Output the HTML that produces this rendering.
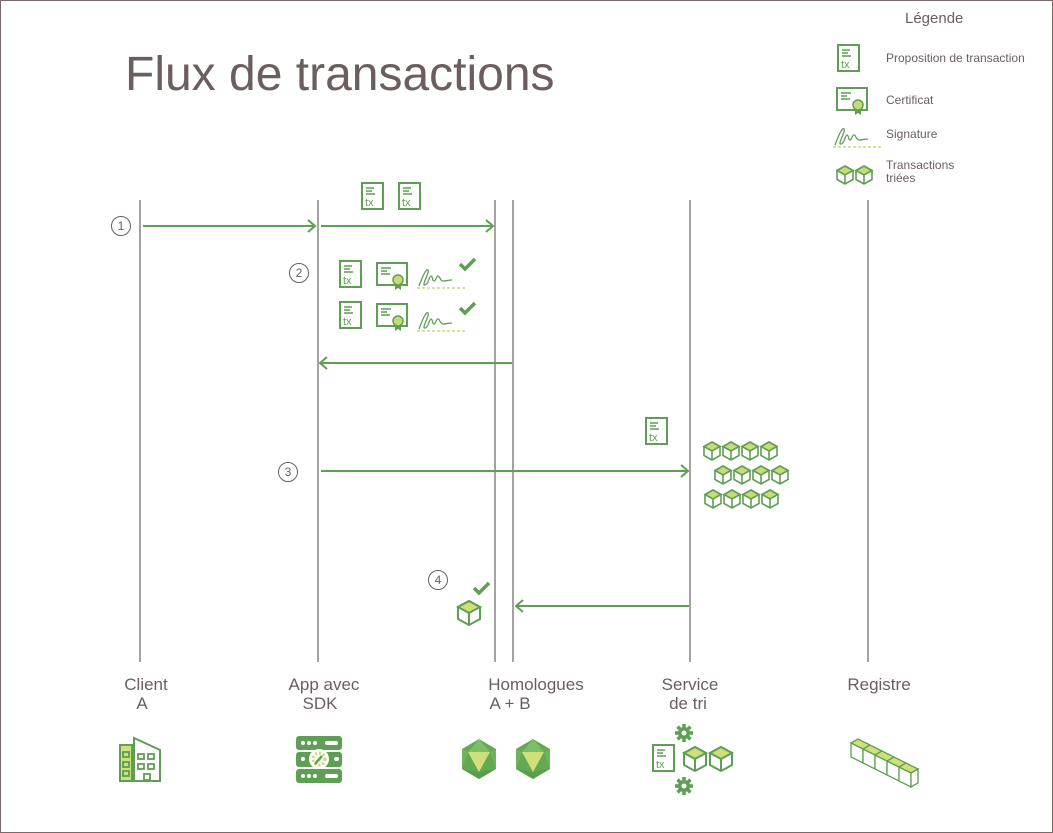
<!DOCTYPE html>
<html><head><meta charset="utf-8"><style>
body{margin:0;background:#fff;overflow:hidden}
svg{display:block}
text{font-family:"Liberation Sans","DejaVu Sans",sans-serif;fill:#6b5e5e}
</style></head><body>
<svg width="1053" height="833" viewBox="0 0 1053 833" xmlns="http://www.w3.org/2000/svg">
<defs>
<g id="tx">
<rect x="1" y="1" width="21" height="26" fill="#fff" stroke="#5f9e55" stroke-width="2"/>
<path d="M5 6h8M5 9h6M5 12h9" stroke="#5f9e55" stroke-width="1.5"/>
<text x="4" y="24" style="font-size:11px;fill:#5f9e55">tx</text>
</g>
<g id="cert">
<rect x="1" y="1" width="30" height="22" fill="#fff" stroke="#5f9e55" stroke-width="2"/>
<path d="M5 6h10M5 9h6M5 12h9" stroke="#5f9e55" stroke-width="1.5"/>
<path d="M19 20l0 8 3-2 3 2 0-8z" fill="#5f9e55"/>
<circle cx="22" cy="18" r="5" fill="#c5dc78" stroke="#5f9e55" stroke-width="1.5"/>
</g>
<g id="sig">
<path d="M2 22c3-8 7-18 9-16s-7 16-3 15 4-9 6-9 1 5 3 5 2-5 4-5 2 5 5 5 5-1 9-1" fill="none" stroke="#5f9e55" stroke-width="1.3"/>
<path d="M0 24h50" stroke="#c5dc78" stroke-width="1.5" stroke-dasharray="3 2"/>
</g>
<g id="check"><path d="M0 6l5 5 10-10" fill="none" stroke="#5f9e55" stroke-width="3.5"/></g>
<g id="cube">
<path d="M9 1l8 4.5v9L9 19l-8-4.5v-9z" fill="#fff" stroke="#5f9e55" stroke-width="1.6"/>
<path d="M1 5.5l8 4.5 8-4.5L9 1z" fill="#c5dc78" stroke="#5f9e55" stroke-width="1.6"/>
<path d="M9 10v9" stroke="#5f9e55" stroke-width="1.6"/>
</g>
<g id="bcube">
<path d="M12 1l11 6v12l-11 6-11-6V7z" fill="#fff" stroke="#5f9e55" stroke-width="2"/>
<path d="M1 7l11 6 11-6-11-6z" fill="#cfe07b" stroke="#5f9e55" stroke-width="2"/>
<path d="M12 13v12" stroke="#5f9e55" stroke-width="2"/>
</g>
<g id="gear">
<circle cx="0" cy="0" r="6" fill="#5f9e55"/>
<g stroke="#5f9e55" stroke-width="3.5"><path d="M0-9v18M-9 0h18M-6.4-6.4l12.8 12.8M6.4-6.4l-12.8 12.8"/></g>
<circle cx="0" cy="0" r="2.5" fill="#fff"/>
</g>
<g id="ico">
<path d="M19 0l17 10v20l-17 10-17-10V10z" fill="#63a852"/>
<path d="M19 0l11 13H8z" fill="#7cbd68"/>
<path d="M2 10l6 3-6 17zM36 10l-6 3 6 17z" fill="#6fb35e"/>
<path d="M8 13h22l-11 20z" fill="#cfe07b"/>
<path d="M2 30l17 3 17-3-17 10z" fill="#5a9e4c"/>
</g>
</defs>
<rect x="0.5" y="0.5" width="1052" height="832" fill="#fff" stroke="#7a6a6a"/>
<text x="125" y="90" style="font-size:48px">Flux de transactions</text>
<!-- legend -->
<text x="905" y="23" style="font-size:15px">Légende</text>
<use href="#tx" x="837" y="44"/>
<text x="886" y="62" style="font-size:12px">Proposition de transaction</text>
<use href="#cert" x="836" y="87"/>
<text x="886" y="104" style="font-size:12px">Certificat</text>
<use href="#sig" x="833" y="123"/>
<text x="886" y="138" style="font-size:12px">Signature</text>
<use href="#cube" x="836" y="165"/><use href="#cube" x="855" y="165"/>
<text x="886" y="169" style="font-size:12px">Transactions</text>
<text x="886" y="182" style="font-size:12px">triées</text>
<!-- lifelines -->
<g stroke="#8a8484" stroke-width="1.5">
<path d="M140 200V662M318 200V662M495 200V662M513 200V662M690 200V662M868 200V662"/>
</g>
<!-- arrows -->
<g stroke="#5f9e55" stroke-width="2" fill="none">
<path d="M143 226H315M308 220l7 6-7 6"/>
<path d="M321 226H493M486 220l7 6-7 6"/>
<path d="M512 363H320M327 357l-7 6 7 6"/>
<path d="M321 471H688M681 465l7 6-7 6"/>
<path d="M689 606H516M523 600l-7 6 7 6"/>
</g>
<g fill="#fff" stroke="#6b5e5e" stroke-width="1">
<circle cx="121" cy="226" r="9.5"/><circle cx="299" cy="273" r="9.5"/><circle cx="288" cy="472" r="9.5"/><circle cx="438" cy="580" r="9.5"/>
</g>
<g style="font-size:12px" text-anchor="middle">
<text x="121" y="230">1</text><text x="299" y="277">2</text><text x="288" y="476">3</text><text x="438" y="584">4</text>
</g>
<use href="#tx" x="361" y="182"/><use href="#tx" x="398" y="182"/>
<use href="#tx" x="339" y="260"/><use href="#cert" x="376" y="262"/><use href="#sig" x="417" y="264"/><use href="#check" x="460" y="258"/>
<use href="#tx" x="339" y="301"/><use href="#cert" x="376" y="303"/><use href="#sig" x="417" y="307"/><use href="#check" x="460" y="302"/>
<use href="#tx" x="645" y="417"/>
<g>
<use href="#cube" x="703" y="441"/><use href="#cube" x="722" y="441"/><use href="#cube" x="741" y="441"/><use href="#cube" x="760" y="441"/>
<use href="#cube" x="714" y="465"/><use href="#cube" x="733" y="465"/><use href="#cube" x="752" y="465"/><use href="#cube" x="771" y="465"/>
<use href="#cube" x="704" y="489"/><use href="#cube" x="723" y="489"/><use href="#cube" x="742" y="489"/><use href="#cube" x="761" y="489"/>
</g>
<use href="#check" x="474" y="582"/>
<use href="#bcube" x="457" y="600"/>
<!-- labels -->
<g style="font-size:17px" text-anchor="middle">
<text x="146" y="690">Client</text><text x="142" y="709">A</text>
<text x="324" y="690">App avec</text><text x="320" y="709">SDK</text>
<text x="536" y="690">Homologues</text><text x="510" y="709">A + B</text>
<text x="690" y="690">Service</text><text x="688" y="709">de tri</text>
<text x="879" y="690">Registre</text>
</g>
<!-- bottom icons -->
<g>
<rect x="120" y="745" width="12" height="36" fill="#cfe07b" stroke="#5f9e55" stroke-width="2"/>
<path d="M134 781V738l26 12v31z" fill="#fff" stroke="#5f9e55" stroke-width="2"/>
<g fill="none" stroke="#5f9e55" stroke-width="1.8"><rect x="123" y="752" width="6" height="5"/><rect x="123" y="762" width="6" height="5"/><rect x="123" y="771" width="6" height="5"/>
<rect x="138" y="754" width="6" height="5"/><rect x="148" y="754" width="6" height="5"/><rect x="138" y="764" width="6" height="5"/><rect x="148" y="764" width="6" height="5"/><rect x="144" y="774" width="6" height="6"/></g>
</g>
<g>
<rect x="296" y="736" width="46" height="14" rx="3" fill="#5f9e55"/>
<rect x="296" y="752" width="46" height="15" rx="3" fill="#5f9e55"/>
<rect x="296" y="769" width="46" height="14" rx="3" fill="#5f9e55"/>
<g fill="#fff"><circle cx="303" cy="743" r="2"/><circle cx="309" cy="743" r="2"/><circle cx="315" cy="743" r="2"/><rect x="325" y="741" width="13" height="4" rx="2"/>
<circle cx="303" cy="776" r="2"/><circle cx="309" cy="776" r="2"/><circle cx="315" cy="776" r="2"/><rect x="325" y="774" width="13" height="4" rx="2"/>
<circle cx="303" cy="759" r="2"/><rect x="334" y="757" width="5" height="4" rx="2"/><circle cx="319" cy="759" r="10"/></g>
<circle cx="319" cy="759" r="6" fill="none" stroke="#c5dc78" stroke-width="3" stroke-dasharray="2 2"/>
<path d="M315 764l7-8" stroke="#5f9e55" stroke-width="2.5"/>
</g>
<use href="#ico" x="460" y="739"/><use href="#ico" x="514" y="739"/>
<use href="#gear" x="684" y="733"/><use href="#gear" x="684" y="786"/>
<use href="#tx" x="652" y="744"/>
<use href="#bcube" x="683" y="746"/><use href="#bcube" x="709" y="746"/>
<g transform="translate(851 739)">
<g fill="#fff" stroke="#5f9e55" stroke-width="1.3">
<path d="M0 4l12 6v14L0 18z"/><path d="M12 10l12 6v14l-12-6z"/><path d="M24 16l12 6v14l-12-6z"/><path d="M36 22l12 6v14l-12-6z"/><path d="M48 28l12 6v14l-12-6z"/>
<path d="M60 34l7-4v14l-7 4z"/>
<path d="M0 4l7-4 60 30-7 4z" fill="#cfe07b"/>
<path d="M12 10l7-4M24 16l7-4M36 22l7-4M48 28l7-4"/>
</g></g>
</svg>
</body></html>
